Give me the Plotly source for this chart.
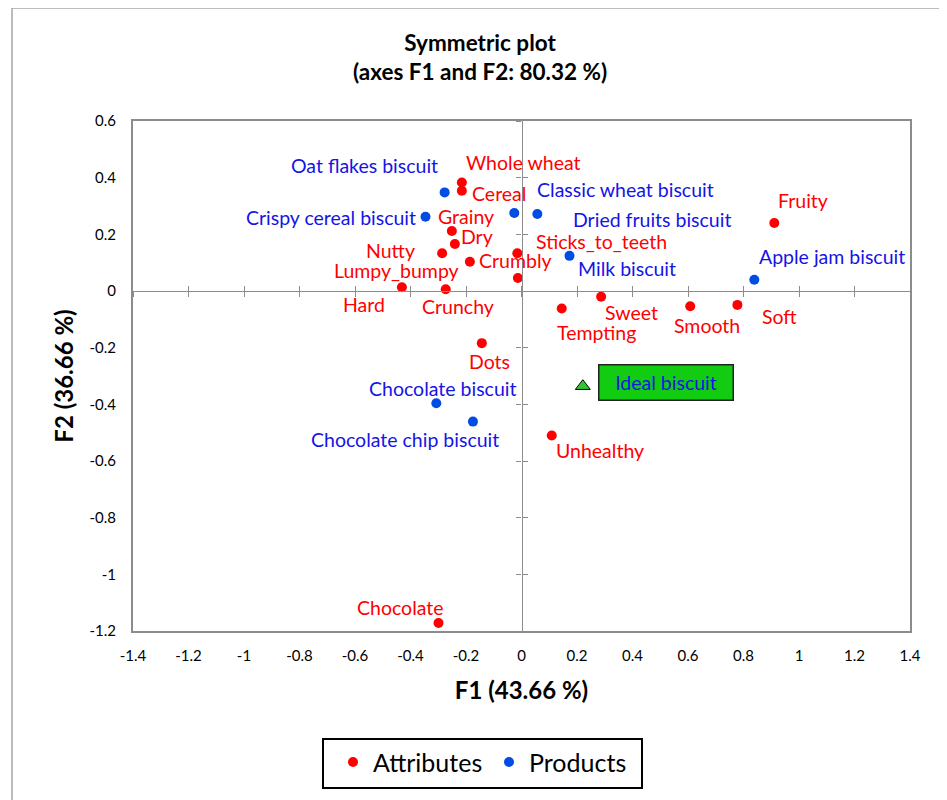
import plotly.graph_objects as go

# ---------------- data ----------------
attr_names = ["Whole wheat", "Cereal", "Grainy", "Dry", "Nutty", "Lumpy_bumpy",
              "Crumbly", "Sticks_to_teeth", "Hard", "Crunchy", "Fruity", "Sweet",
              "Tempting", "Smooth", "Soft", "Dots", "Unhealthy", "Chocolate"]
attr_f1 = [-0.215, -0.215, -0.251, -0.240, -0.286, -0.186, -0.013, -0.015, -0.431,
           -0.273, 0.911, 0.287, 0.145, 0.608, 0.778, -0.143, 0.109, -0.299]
attr_f2 = [0.383, 0.354, 0.212, 0.166, 0.133, 0.103, 0.046, 0.133, 0.013,
           0.006, 0.240, -0.020, -0.062, -0.054, -0.049, -0.184, -0.510, -1.172]

prod_names = ["Oat flakes biscuit", "Crispy cereal biscuit", "Classic wheat biscuit",
              "Dried fruits biscuit", "Milk biscuit", "Apple jam biscuit",
              "Chocolate biscuit", "Chocolate chip biscuit"]
prod_f1 = [-0.277, -0.346, -0.026, 0.057, 0.173, 0.839, -0.307, -0.175]
prod_f2 = [0.348, 0.262, 0.275, 0.272, 0.124, 0.040, -0.396, -0.461]

ideal_name = ["Ideal biscuit"]
ideal_f1 = [0.221]
ideal_f2 = [-0.336]

x_ticks = [-1.4, -1.2, -1.0, -0.8, -0.6, -0.4, -0.2, 0.0, 0.2, 0.4, 0.6, 0.8, 1.0, 1.2, 1.4]
x_tick_text = ["-1.4", "-1.2", "-1", "-0.8", "-0.6", "-0.4", "-0.2", "0", "0.2", "0.4",
               "0.6", "0.8", "1", "1.2", "1.4"]
y_ticks = [-1.2, -1.0, -0.8, -0.6, -0.4, -0.2, 0.0, 0.2, 0.4, 0.6]
y_tick_text = ["-1.2", "-1", "-0.8", "-0.6", "-0.4", "-0.2", "0", "0.2", "0.4", "0.6"]

# label offsets (pixels, relative to point)
label_off = {
    "Whole wheat": (62, -20), "Cereal": (37, 3), "Grainy": (14, -14), "Dry": (22, -7),
    "Nutty": (-52, -3), "Lumpy_bumpy": (-73, 9), "Crumbly": (-2, -17),
    "Sticks_to_teeth": (84, -12), "Hard": (-38, 17), "Crunchy": (12, 17),
    "Fruity": (29, -23), "Sweet": (30, 16), "Tempting": (35, 24), "Smooth": (17, 19),
    "Soft": (42, 12), "Dots": (8, 18), "Unhealthy": (48, 15), "Chocolate": (-38, -16),
    "Oat flakes biscuit": (-80, -27), "Crispy cereal biscuit": (-94, 1),
    "Classic wheat biscuit": (111, -24), "Dried fruits biscuit": (115, 6),
    "Milk biscuit": (57, 13), "Apple jam biscuit": (78, -23),
    "Chocolate biscuit": (6, -15), "Chocolate chip biscuit": (-68, 18),
    "Ideal biscuit": (83, -4),
}

FONT = "Lato"
RED = "#FF0000"
BLUE_DOT = "#004DE6"
BLUE_TXT = "#1414E6"
GRAY = "#8C8C8C"

fig = go.Figure()
fig.add_trace(go.Scatter(x=attr_f1, y=attr_f2, mode="markers", name="Attributes",
                         marker=dict(color=RED, size=10), hoverinfo="text", text=attr_names))
fig.add_trace(go.Scatter(x=prod_f1, y=prod_f2, mode="markers", name="Products",
                         marker=dict(color=BLUE_DOT, size=10), hoverinfo="text", text=prod_names))
fig.add_trace(go.Scatter(x=ideal_f1, y=ideal_f2, mode="markers", showlegend=False,
                         marker=dict(symbol="triangle-up", color="#2DC82D", size=13,
                                     line=dict(color="#000000", width=1)),
                         hoverinfo="text", text=ideal_name))

# dummy traces so the crossing zero-axes are drawn
for xa, ya in [("x2", "y"), ("x3", "y"), ("x", "y2"), ("x", "y3")]:
    fig.add_trace(go.Scatter(x=[None], y=[None], xaxis=xa, yaxis=ya, showlegend=False,
                             hoverinfo="skip"))

anns = []
for names, xs, ys, col in [(attr_names, attr_f1, attr_f2, RED),
                           (prod_names, prod_f1, prod_f2, BLUE_TXT)]:
    for n, xv, yv in zip(names, xs, ys):
        ax, ay = label_off[n]
        anns.append(dict(x=xv, y=yv, xref="x", yref="y", text=n, showarrow=True,
                         arrowcolor="rgba(0,0,0,0)", arrowhead=0, ax=ax, ay=ay,
                         font=dict(family=FONT, size=19.5, color=col)))
ax, ay = label_off["Ideal biscuit"]
anns.append(dict(x=ideal_f1[0], y=ideal_f2[0], xref="x", yref="y", text=ideal_name[0],
                 showarrow=True, arrowcolor="rgba(0,0,0,0)", arrowhead=0, ax=ax, ay=ay,
                 bgcolor="#11CC11", bordercolor="#222222", borderwidth=1.5, borderpad=0,
                 width=133, height=34,
                 font=dict(family=FONT, size=19.5, color=BLUE_TXT)))

XR = [-1.4, 1.4]
YR = [-1.2, 0.6]
zero_x = 1.4 / 2.8
zero_y = 1.2 / 1.8

fig.update_layout(
    width=947, height=800,
    margin=dict(l=125, r=45, t=113, b=177),
    paper_bgcolor="white", plot_bgcolor="white",
    font=dict(family=FONT, color="#000000"),
    title=dict(text="<b>Symmetric plot<br>(axes F1 and F2: 80.32 %)</b>",
               x=0.4985, xref="container", xanchor="center",
               y=1 - 43 / 800, yref="container", yanchor="top",
               font=dict(family=FONT, size=22.5, color="#000000")),
    xaxis=dict(range=XR, tickvals=x_ticks, ticktext=x_tick_text, showgrid=False,
               zeroline=False, showline=True, mirror=True, linecolor=GRAY, linewidth=2,
               ticks="", ticklabelstandoff=10, tickfont=dict(size=15, family=FONT),
               title=dict(text="<b>F1 (43.66 %)</b>", standoff=19,
                          font=dict(size=24, family=FONT))),
    yaxis=dict(range=YR, tickvals=y_ticks, ticktext=y_tick_text, showgrid=False,
               zeroline=False, showline=True, mirror=True, linecolor=GRAY, linewidth=2,
               ticks="", ticklabelstandoff=12, tickfont=dict(size=15, family=FONT),
               title=dict(text="<b>F2 (36.66 %)</b>", standoff=9,
                          font=dict(size=24, family=FONT))),
    xaxis2=dict(range=XR, overlaying="x", anchor="free", position=zero_y,
                tickvals=x_ticks, showticklabels=False, showgrid=False, zeroline=False,
                showline=True, linecolor=GRAY, linewidth=1.3, ticks="outside", ticklen=5,
                tickcolor=GRAY, tickwidth=1.3),
    xaxis3=dict(range=XR, overlaying="x", anchor="free", position=zero_y,
                tickvals=x_ticks, showticklabels=False, showgrid=False, zeroline=False,
                showline=False, ticks="inside", ticklen=5, tickcolor=GRAY, tickwidth=1.3),
    yaxis2=dict(range=YR, overlaying="y", anchor="free", position=zero_x,
                tickvals=y_ticks, showticklabels=False, showgrid=False, zeroline=False,
                showline=True, linecolor=GRAY, linewidth=1.3, ticks="outside", ticklen=5,
                tickcolor=GRAY, tickwidth=1.3),
    yaxis3=dict(range=YR, overlaying="y", anchor="free", position=zero_x,
                tickvals=y_ticks, showticklabels=False, showgrid=False, zeroline=False,
                showline=False, ticks="inside", ticklen=5, tickcolor=GRAY, tickwidth=1.3),
    legend=dict(orientation="h", x=(333 - 133) / 777, xanchor="left",
                y=-0.2124, yanchor="top",
                borderwidth=0, bgcolor="rgba(0,0,0,0)",
                font=dict(size=25, family=FONT, color="#000000"),
                entrywidth=111, entrywidthmode="pixels"),
    annotations=anns,
    showlegend=True,
)

# legend frame
fig.add_shape(type="rect", xref="paper", yref="paper",
              x0=(323 - 133) / 777, x1=(642 - 133) / 777,
              y0=(631 - 788) / 510, y1=(631 - 739) / 510,
              line=dict(color="#000000", width=2), fillcolor="rgba(0,0,0,0)")

# outer chart frame
fig.add_shape(type="rect", xref="paper", yref="paper",
              x0=(12 - 133) / 777, x1=1.2, y0=-0.5, y1=(631 - 8) / 510,
              line=dict(color="#A6A6A6", width=1.5), fillcolor="rgba(0,0,0,0)", layer="below")

fig.write_html("out.html")
